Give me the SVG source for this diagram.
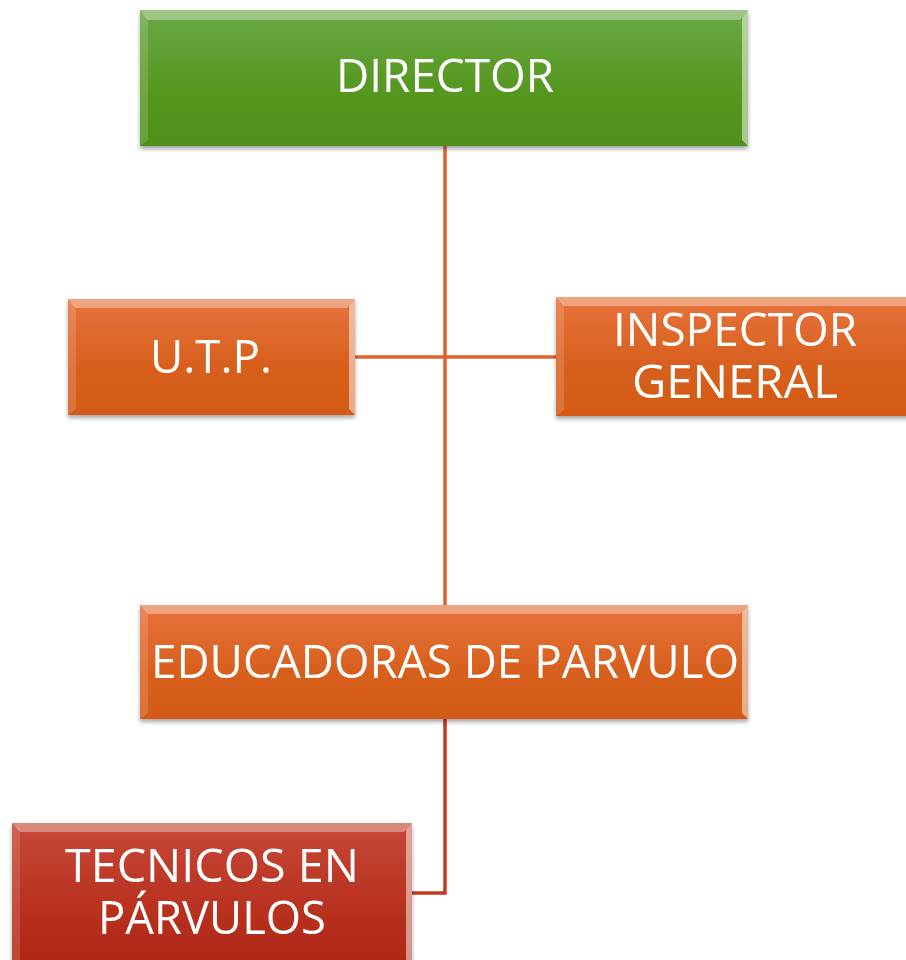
<svg xmlns="http://www.w3.org/2000/svg" width="906" height="960" viewBox="0 0 906 960">
<defs>
<linearGradient id="gGreen" x1="0" y1="0" x2="0" y2="1">
<stop offset="0" stop-color="#6aa945"/><stop offset="0.6" stop-color="#55971f"/><stop offset="1" stop-color="#4e911c"/>
</linearGradient>
<linearGradient id="gOrange" x1="0" y1="0" x2="0" y2="1">
<stop offset="0" stop-color="#e7733c"/><stop offset="0.6" stop-color="#d75f1d"/><stop offset="1" stop-color="#d35a15"/>
</linearGradient>
<linearGradient id="gRed" x1="0" y1="0" x2="0" y2="1">
<stop offset="0" stop-color="#c74838"/><stop offset="0.6" stop-color="#b7301e"/><stop offset="1" stop-color="#ae2615"/>
</linearGradient>
<filter id="sh" x="-5%" y="-5%" width="110%" height="115%">
<feGaussianBlur in="SourceAlpha" stdDeviation="2"/>
<feOffset dx="0" dy="3" result="b"/>
<feComponentTransfer><feFuncA type="linear" slope="0.35"/></feComponentTransfer>
<feMerge><feMergeNode/><feMergeNode in="SourceGraphic"/></feMerge>
</filter>
</defs>
<style>
.lbl{font-family:"Open Sans","Liberation Sans",sans-serif;fill:#ffffff;text-anchor:middle}
.hi{fill:#ffffff;opacity:0.35}
.lo{fill:#000000;opacity:0.08}
.conn{fill:none;stroke-width:3.5}
</style>
<g id="connectors">
<path class="conn" stroke="#e0622a" d="M445 146V605"/>
<path class="conn" stroke="#e0622a" d="M355 357H556"/>
<path class="conn" stroke="#c7371f" d="M445 719V893H412"/>
</g>
<g id="director" filter="url(#sh)">
<rect x="140" y="10" width="608" height="136" fill="url(#gGreen)"/>
<polygon class="hi" points="140,10 748,10 740,20 148,20"/>
<polygon class="hi" points="748,10 748,146 742,140 742,18" style="opacity:0.5"/>
<polygon class="hi" points="140,10 148,18 148,140 140,146" style="opacity:0.15"/>
<text class="lbl" x="445" y="92" font-size="46" textLength="218" lengthAdjust="spacingAndGlyphs">DIRECTOR</text>
</g>
<g id="utp" filter="url(#sh)">
<rect x="68" y="299" width="287" height="116" fill="url(#gOrange)"/>
<polygon class="hi" points="68,299 355,299 347,308 76,308"/>
<polygon class="hi" points="355,299 355,415 349,409 349,306" style="opacity:0.5"/>
<polygon class="hi" points="68,299 76,306 76,409 68,415" style="opacity:0.15"/>
<text class="lbl" x="211" y="373" font-size="46" textLength="122" lengthAdjust="spacingAndGlyphs">U.T.P.</text>
</g>
<g id="inspector" filter="url(#sh)">
<rect x="556" y="297" width="360" height="119" fill="url(#gOrange)"/>
<polygon class="hi" points="556,297 916,297 906,306 564,306"/>
<polygon class="hi" points="556,297 564,304 564,410 556,416" style="opacity:0.15"/>
<text class="lbl" x="735" y="346" font-size="46" textLength="244" lengthAdjust="spacingAndGlyphs">INSPECTOR</text>
<text class="lbl" x="735" y="398" font-size="46" textLength="206" lengthAdjust="spacingAndGlyphs">GENERAL</text>
</g>
<g id="educadoras" filter="url(#sh)">
<rect x="140" y="605" width="608" height="114" fill="url(#gOrange)"/>
<polygon class="hi" points="140,605 748,605 740,614 148,614"/>
<polygon class="hi" points="748,605 748,719 742,713 742,612" style="opacity:0.5"/>
<polygon class="hi" points="140,605 148,612 148,713 140,719" style="opacity:0.15"/>
<text class="lbl" x="445" y="678" font-size="46" textLength="588" lengthAdjust="spacingAndGlyphs">EDUCADORAS DE PARVULO</text>
</g>
<g id="tecnicos" filter="url(#sh)">
<rect x="12" y="823" width="400" height="150" fill="url(#gRed)"/>
<polygon class="hi" points="12,823 412,823 404,832 20,832"/>
<polygon class="hi" points="412,823 412,960 406,960 406,830" style="opacity:0.5"/>
<polygon class="hi" points="12,823 20,830 20,960 12,960" style="opacity:0.15"/>
<text class="lbl" x="212" y="882" font-size="46" textLength="294" lengthAdjust="spacingAndGlyphs">TECNICOS EN</text>
<text class="lbl" x="212" y="934" font-size="46" textLength="228" lengthAdjust="spacingAndGlyphs">PÁRVULOS</text>
</g>
</svg>
